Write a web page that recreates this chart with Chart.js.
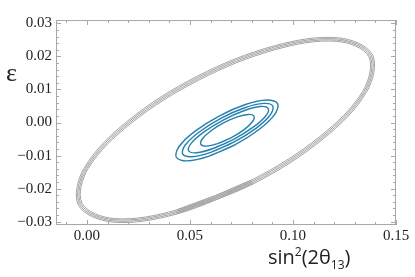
<!DOCTYPE html>
<html>
<head>
<meta charset="utf-8">
<script src="https://cdn.jsdelivr.net/npm/chart.js@4.4.1/dist/chart.umd.min.js"></script>
<style>
  html, body { margin: 0; padding: 0; background: #fff; }
  #grafico { display: block; }
</style>
</head>
<body>
<canvas id="grafico" width="415" height="277"></canvas>
<script>
// contornos: cada anillo es una lista de puntos [x, y]
// x -> sin^2(2 theta13), y -> epsilon

// contornos grises (los 4 anillos grandes, casi pegados)
const gris1 = [[0.08089,-0.01850],[0.04338,-0.02771],[0.01227,-0.03011],[-0.00413,-0.02503],[-0.00141,-0.01385],[0.01970,0.00043],[0.05355,0.01400],[0.09106,0.02321],[0.12217,0.02561],[0.13857,0.02053],[0.13585,0.00935],[0.11474,-0.00493]];
const gris2 = [[0.08058,-0.01813],[0.04341,-0.02730],[0.01263,-0.02975],[-0.00353,-0.02484],[-0.00073,-0.01387],[0.02027,0.00020],[0.05386,0.01363],[0.09103,0.02280],[0.12181,0.02525],[0.13797,0.02034],[0.13517,0.00937],[0.11417,-0.00470]];
const gris3 = [[0.08027,-0.01775],[0.04345,-0.02687],[0.01301,-0.02940],[-0.00292,-0.02465],[-0.00005,-0.01390],[0.02085,-0.00003],[0.05417,0.01325],[0.09099,0.02237],[0.12143,0.02490],[0.13736,0.02015],[0.13449,0.00940],[0.11359,-0.00447]];
const gris4 = [[0.07995,-0.01738],[0.04347,-0.02645],[0.01337,-0.02905],[-0.00232,-0.02445],[0.00063,-0.01391],[0.02143,-0.00025],[0.05449,0.01288],[0.09097,0.02195],[0.12107,0.02455],[0.13676,0.01995],[0.13381,0.00941],[0.11301,-0.00425]];

// contornos azules (los 4 anillos chicos del centro)
const azul1 = [[0.07175,-0.00676],[0.05894,-0.01024],[0.04855,-0.01161],[0.04335,-0.01052],[0.04475,-0.00725],[0.05236,-0.00268],[0.06415,0.00196],[0.07696,0.00544],[0.08735,0.00681],[0.09255,0.00572],[0.09115,0.00245],[0.08354,-0.00212]];
const azul2 = [[0.07147,-0.00588],[0.06010,-0.00902],[0.05095,-0.01034],[0.04645,-0.00951],[0.04781,-0.00674],[0.05468,-0.00278],[0.06521,0.00132],[0.07658,0.00446],[0.08573,0.00578],[0.09023,0.00495],[0.08887,0.00218],[0.08200,-0.00178]];
const azul3 = [[0.07121,-0.00507],[0.06121,-0.00787],[0.05322,-0.00915],[0.04936,-0.00854],[0.05068,-0.00623],[0.05683,-0.00283],[0.06615,0.00075],[0.07615,0.00355],[0.08414,0.00483],[0.08800,0.00422],[0.08668,0.00191],[0.08053,-0.00149]];
const azul4 = [[0.07012,-0.00457],[0.06342,-0.00640],[0.05801,-0.00714],[0.05531,-0.00660],[0.05607,-0.00492],[0.06008,-0.00256],[0.06626,-0.00013],[0.07296,0.00170],[0.07837,0.00244],[0.08107,0.00190],[0.08031,0.00022],[0.07630,-0.00214]];

// marcas de los ejes
const xTicks = [0.00, 0.05, 0.10, 0.15];
const xTickLabels = ['0.00', '0.05', '0.10', '0.15'];
const yTicks = [-0.03, -0.02, -0.01, 0.00, 0.01, 0.02, 0.03];
const yTickLabels = ['\u22120.03', '\u22120.02', '\u22120.01', '0.00', '0.01', '0.02', '0.03'];

// rango visible
const xRange = [-0.015, 0.15];
const yRange = [-0.031, 0.031];

// marcas menores (cada 0.01 en x, cada 0.002 en y)
const xMinor = [];
for (let i = -1; i <= 15; i++) xMinor.push(i / 100);
const yMinor = [];
for (let i = -15; i <= 15; i++) yMinor.push(i / 500);

// arma un dataset cerrado: se repiten los dos primeros puntos
// para que la union del anillo quede suave
function anillo(puntos, color, ancho) {
    const cerrado = puntos.concat(puntos.slice(0, 2));
    return {
        data: cerrado.map(([x, y]) => ({ x, y })),
        showLine: true,
        borderColor: color,
        borderWidth: ancho,
        pointRadius: 0,
        tension: 0.35,
        fill: false
    };
}

const GRIS = '#a4a4a4';
const AZUL = '#2580ad';
const MARCO = '#a8a8a8';

// marco de mathematica: borde en los 4 lados y marcas hacia adentro
const marco = {
    id: 'marco',
    afterDraw(chart) {
        const { ctx, chartArea: a, scales: { x, y } } = chart;
        ctx.save();
        ctx.strokeStyle = MARCO;
        ctx.lineWidth = 1;
        ctx.strokeRect(a.left + 0.5, a.top + 0.5, a.right - a.left - 1, a.bottom - a.top - 1);

        const linea = (x1, y1, x2, y2) => {
            ctx.beginPath(); ctx.moveTo(x1, y1); ctx.lineTo(x2, y2); ctx.stroke();
        };
        const marcaX = (v, largo) => {
            const px = Math.round(x.getPixelForValue(v)) + 0.5;
            linea(px, a.bottom, px, a.bottom - largo);
            linea(px, a.top, px, a.top + largo);
        };
        const marcaY = (v, largo) => {
            const py = Math.round(y.getPixelForValue(v)) + 0.5;
            linea(a.left, py, a.left + largo, py);
            linea(a.right, py, a.right - largo, py);
        };
        xMinor.forEach(v => marcaX(v, 3));
        xTicks.forEach(v => marcaX(v, 5));
        yMinor.forEach(v => marcaY(v, 3));
        yTicks.forEach(v => marcaY(v, 5));

        // titulos de los ejes
        ctx.fillStyle = '#222';
        ctx.textBaseline = 'alphabetic';
        ctx.textAlign = 'left';
        ctx.font = '26px "Liberation Serif"';
        ctx.fillText('\u03b5', 6, 81);

        const base = 264;
        let cx = 268;
        const trozo = (txt, size, dy) => {
            ctx.font = size + 'px "Open Sans"';
            ctx.fillText(txt, cx, base + dy);
            cx += ctx.measureText(txt).width;
        };
        trozo('sin', 20, 0);
        trozo('2', 12, -8);
        trozo('(2\u03b8', 20, 0);
        trozo('13', 12, 5);
        trozo(')', 20, 0);
        ctx.restore();
    }
};

const datasets = [
    anillo(gris1, GRIS, 1), anillo(gris2, GRIS, 1), anillo(gris3, GRIS, 1), anillo(gris4, GRIS, 1),
    anillo(azul1, AZUL, 1.4), anillo(azul2, AZUL, 1.4), anillo(azul3, AZUL, 1.4), anillo(azul4, AZUL, 1.4)
];

const fuenteTicks = { family: '"Liberation Serif"', size: 15 };

new Chart(document.getElementById('grafico').getContext('2d'), {
    type: 'scatter',
    data: { datasets },
    options: {
        responsive: false,
        animation: false,
        devicePixelRatio: 1,
        layout: { padding: { top: 20, right: 19, left: 0, bottom: 0 } },
        plugins: { legend: { display: false }, tooltip: { enabled: false } },
        scales: {
            x: {
                type: 'linear',
                min: xRange[0],
                max: xRange[1],
                afterBuildTicks: s => { s.ticks = xTicks.map(v => ({ value: v })); },
                afterFit: s => { s.height = 52; },
                grid: { display: false, drawTicks: false },
                border: { display: false },
                ticks: {
                    autoSkip: false, maxRotation: 0, padding: 2,
                    color: '#222', font: fuenteTicks,
                    callback: (v, i) => xTickLabels[i]
                }
            },
            y: {
                type: 'linear',
                min: yRange[0],
                max: yRange[1],
                afterBuildTicks: s => { s.ticks = yTicks.map(v => ({ value: v })); },
                afterFit: s => { s.width = 56; },
                grid: { display: false, drawTicks: false },
                border: { display: false },
                ticks: {
                    autoSkip: false, padding: 4,
                    color: '#222', font: fuenteTicks,
                    callback: (v, i) => yTickLabels[i]
                }
            }
        }
    },
    plugins: [marco]
});
</script>
</body>
</html>
